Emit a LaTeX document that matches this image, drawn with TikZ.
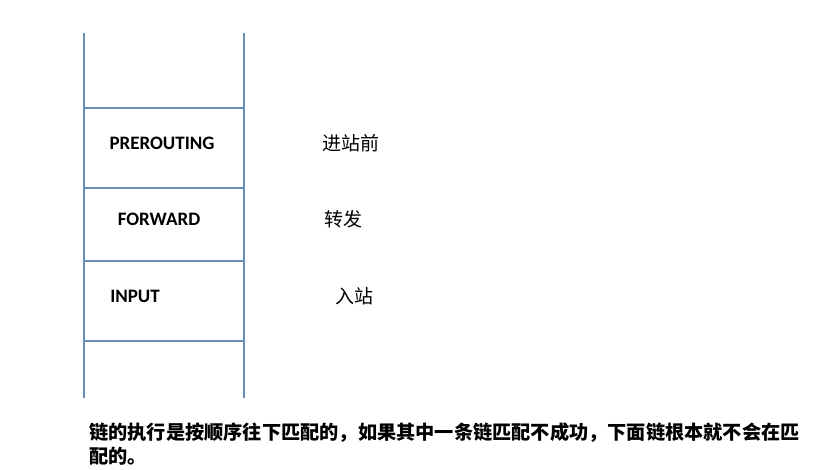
\documentclass[tikz,border=0pt]{standalone}
\usepackage{fontspec}
\setmainfont{Carlito}
\newfontfamily\cjk{Noto Sans CJK SC}
\begin{document}
\begin{tikzpicture}[x=1pt,y=-1pt,
  chainline/.style={draw={rgb,255:red,106;green,141;blue,182}, line width=2.2pt},
  chainlabel/.style={inner sep=0pt, font=\fontsize{19}{22}\selectfont\bfseries},
  cnlabel/.style={inner sep=0pt, font=\cjk\fontsize{19}{22}\selectfont},
  note/.style={inner sep=0pt, anchor=north west, align=left, font=\cjk\bfseries\fontsize{19.2}{24}\selectfont}]
\useasboundingbox (0,0) rectangle (816,469);
% chain stack
\coordinate (tl) at (84,33);
\coordinate (tr) at (244,33);
\coordinate (bl) at (84,398);
\coordinate (br) at (244,398);
\coordinate (l1) at (84,108); \coordinate (r1) at (244,108);
\coordinate (l2) at (84,188); \coordinate (r2) at (244,188);
\coordinate (l3) at (84,261); \coordinate (r3) at (244,261);
\coordinate (l4) at (84,341); \coordinate (r4) at (244,341);
\draw[chainline] (tl) -- (bl);
\draw[chainline] (tr) -- (br);
\draw[chainline] (l1) -- (r1);
\draw[chainline] (l2) -- (r2);
\draw[chainline] (l3) -- (r3);
\draw[chainline] (l4) -- (r4);
% labels
\node[chainlabel] (pre) at (162,143) {PREROUTING};
\node[chainlabel] (fwd) at (159,219) {FORWARD};
\node[chainlabel] (inp) at (135,296) {INPUT};
\node[cnlabel] (cpre) at (351,143) {进站前};
\node[cnlabel] (cfwd) at (343,219) {转发};
\node[cnlabel] (cinp) at (354,296) {入站};
\node[note] (txt) at (89,423) {链的执行是按顺序往下匹配的，如果其中一条链匹配不成功，下面链根本就不会在匹\\配的。};
\end{tikzpicture}
\end{document}
